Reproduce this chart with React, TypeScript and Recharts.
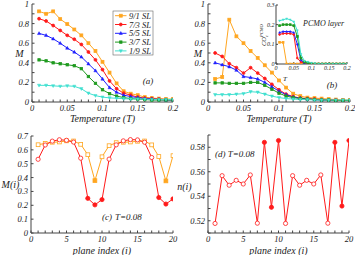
import React from 'react';
import { LineChart, Line, XAxis, YAxis } from 'recharts';

const SERIF = '"Liberation Serif", "DejaVu Serif", serif';
const AX = '#444';

// ---------- shared temperature grid ----------
const temperature = [0.01, 0.02, 0.03, 0.04, 0.05, 0.06, 0.07, 0.08, 0.09, 0.1, 0.11, 0.12, 0.13, 0.14, 0.15, 0.16, 0.17, 0.18, 0.19, 0.2];
const tempTicks = [0, 0.01, 0.02, 0.03, 0.04, 0.05, 0.06, 0.07, 0.08, 0.09, 0.1, 0.11, 0.12, 0.13, 0.14, 0.15, 0.16, 0.17, 0.18, 0.19, 0.2];
const tempLabels = ['0', '0.05', '0.1', '0.15', '0.2'];
const mTicks = [0, 0.1, 0.2, 0.3, 0.4, 0.5, 0.6, 0.7, 0.8, 0.9, 1];
const mLabels = ['0', '0.2', '0.4', '0.6', '0.8', '1'];

const seriesNames = ['9/1 SL', '7/3 SL', '5/5 SL', '3/7 SL', '1/9 SL'];
const seriesColors = ['#FFA620', '#FF1A1A', '#1F1FFF', '#1E9A1E', '#40E0D0'];
const seriesShapes = ['square', 'circle', 'triUp', 'square', 'triDown'];

// ---------- panel (a) ----------
const m91A = [0.925, 0.9, 0.925, 0.846, 0.795, 0.74, 0.68, 0.6, 0.52, 0.41, 0.3, 0.19, 0.11, 0.085, 0.07, 0.05, 0.04, 0.035, 0.03, 0.03];
const m73A = [0.85, 0.826, 0.78, 0.73, 0.68, 0.64, 0.587, 0.51, 0.43, 0.33, 0.215, 0.135, 0.09, 0.07, 0.05, 0.04, 0.035, 0.03, 0.025, 0.025];
const m55A = [0.7, 0.68, 0.645, 0.6, 0.55, 0.51, 0.46, 0.39, 0.32, 0.235, 0.147, 0.1, 0.07, 0.055, 0.045, 0.035, 0.03, 0.025, 0.02, 0.02];
const m37A = [0.43, 0.42, 0.4, 0.39, 0.38, 0.37, 0.34, 0.26, 0.19, 0.125, 0.085, 0.06, 0.045, 0.035, 0.03, 0.025, 0.02, 0.02, 0.02, 0.02];
const m19A = [0.17, 0.17, 0.165, 0.16, 0.165, 0.16, 0.135, 0.09, 0.065, 0.05, 0.042, 0.038, 0.034, 0.03, 0.03, 0.028, 0.025, 0.025, 0.025, 0.025];

// ---------- panel (b) ----------
const m91B = [0.235, 0.255, 0.84, 0.67, 0.6, 0.52, 0.45, 0.375, 0.3, 0.22, 0.147, 0.085, 0.06, 0.045, 0.04, 0.035, 0.03, 0.025, 0.02, 0.02];
const m73B = [0.5, 0.465, 0.39, 0.35, 0.295, 0.35, 0.295, 0.24, 0.18, 0.125, 0.08, 0.055, 0.04, 0.035, 0.03, 0.025, 0.02, 0.02, 0.015, 0.015];
const m55B = [0.4, 0.38, 0.36, 0.325, 0.26, 0.25, 0.235, 0.2, 0.155, 0.11, 0.075, 0.05, 0.04, 0.03, 0.025, 0.02, 0.02, 0.015, 0.015, 0.015];
const m37B = [0.195, 0.195, 0.19, 0.19, 0.19, 0.2, 0.2, 0.17, 0.13, 0.09, 0.06, 0.045, 0.035, 0.03, 0.025, 0.02, 0.02, 0.015, 0.015, 0.015];
const m19B = [0.075, 0.075, 0.075, 0.08, 0.085, 0.105, 0.1, 0.08, 0.06, 0.045, 0.035, 0.03, 0.025, 0.025, 0.02, 0.02, 0.02, 0.02, 0.02, 0.02];

// ---------- inset of (b): charge order in PCMO layer ----------
const co91 = [0.11, 0.11, 0, 0, 0, 0, 0, 0, 0, 0, 0, 0, 0, 0, 0, 0, 0, 0, 0, 0];
const co73 = [0.15, 0.155, 0.155, 0.155, 0.15, 0.03, 0.01, 0.005, 0, 0, 0, 0, 0, 0, 0, 0, 0, 0, 0, 0];
const co55 = [0.16, 0.165, 0.165, 0.165, 0.16, 0.1, 0.02, 0.005, 0, 0, 0, 0, 0, 0, 0, 0, 0, 0, 0, 0];
const co37 = [0.195, 0.2, 0.2, 0.2, 0.195, 0.14, 0.03, 0.01, 0.005, 0, 0, 0, 0, 0, 0, 0, 0, 0, 0, 0];
const co19 = [0.22, 0.225, 0.23, 0.225, 0.215, 0.17, 0.05, 0.015, 0.01, 0.005, 0.003, 0, 0, 0, 0, 0, 0, 0, 0, 0];
const insetXTicks = [0, 0.05, 0.1, 0.15, 0.2];
const insetYTicks = [0, 0.1, 0.2, 0.3];

// ---------- panels (c), (d) ----------
const plane = [1, 2, 3, 4, 5, 6, 7, 8, 9, 10, 11, 12, 13, 14, 15, 16, 17, 18, 19, 20];
const planeTicks = [0, 1, 2, 3, 4, 5, 6, 7, 8, 9, 10, 11, 12, 13, 14, 15, 16, 17, 18, 19, 20];
const planeLabels = ['0', '5', '10', '15', '20'];
const mRedC = [0.532, 0.635, 0.663, 0.673, 0.669, 0.656, 0.54, 0.25, 0.203, 0.241, 0.533, 0.636, 0.665, 0.674, 0.672, 0.655, 0.545, 0.256, 0.209, 0.246];
const mOrangeC = [0.637, 0.647, 0.655, 0.657, 0.665, 0.664, 0.64, 0.565, 0.378, 0.55, 0.63, 0.652, 0.655, 0.657, 0.662, 0.664, 0.636, 0.552, 0.376, 0.558];
const mCTicks = [0, 0.1, 0.2, 0.3, 0.4, 0.5, 0.6, 0.7];
const nRedD = [0.5178, 0.5568, 0.549, 0.553, 0.55, 0.5574, 0.518, 0.584, 0.531, 0.5855, 0.5178, 0.5568, 0.549, 0.553, 0.55, 0.5574, 0.518, 0.584, 0.532, 0.5855];
const nDTicks = [0.51, 0.52, 0.53, 0.54, 0.55, 0.56, 0.57, 0.58, 0.59];
const nDLabels = ['0.52', '0.54', '0.56', '0.58'];
const redFilledPlanes = [8, 9, 10, 18, 19, 20];
const orangeFilledPlanes = [9, 19];

const keys = ['s91', 's73', 's55', 's37', 's19'];
const dataA = temperature.map((t, i) => ({ t, s91: m91A[i], s73: m73A[i], s55: m55A[i], s37: m37A[i], s19: m19A[i] }));
const dataB = temperature.map((t, i) => ({ t, s91: m91B[i], s73: m73B[i], s55: m55B[i], s37: m37B[i], s19: m19B[i] }));
const dataInset = temperature.map((t, i) => ({ t, s91: co91[i], s73: co73[i], s55: co55[i], s37: co37[i], s19: co19[i] }));
const dataC = plane.map((p, i) => ({ plane: p, red: mRedC[i], orange: mOrangeC[i] }));
const dataD = plane.map((p, i) => ({ plane: p, n: nRedD[i] }));

function markerShape(shape: string, cx: number, cy: number, r: number, color: string, fill: string, key: string) {
  switch (shape) {
    case 'square':
      return <rect key={key} x={cx - r} y={cy - r} width={2 * r} height={2 * r} fill={fill} stroke={color} strokeWidth={0.8} />;
    case 'triUp':
      return <polygon key={key} points={`${cx},${cy - r * 1.2} ${cx - r * 1.1},${cy + r * 0.8} ${cx + r * 1.1},${cy + r * 0.8}`} fill={fill} stroke={color} strokeWidth={0.5} />;
    case 'triDown':
      return <polygon key={key} points={`${cx},${cy + r * 1.2} ${cx - r * 1.1},${cy - r * 0.8} ${cx + r * 1.1},${cy - r * 0.8}`} fill={fill} stroke={color} strokeWidth={0.5} />;
    default:
      return <circle key={key} cx={cx} cy={cy} r={r} fill={fill} stroke={color} strokeWidth={0.8} />;
  }
}

function makeDot(shape: string, color: string, r: number, filledPlanes?: number[]) {
  return (props: any) => {
    const { cx, cy, index, payload } = props;
    const key = `m${index}`;
    if (cx == null || cy == null) return <g key={key} />;
    const filled = filledPlanes ? filledPlanes.includes(payload.plane) : true;
    return markerShape(shape, cx, cy, r, color, filled ? color : '#ffffff', key);
  };
}

const labelFmt = (labels: string[]) => (v: number) => {
  const s = String(Math.round(v * 1000) / 1000);
  return labels.includes(s) ? s : '';
};

const tickStyle = (size: number) => ({ fontSize: size, fontFamily: SERIF, fontStyle: 'italic' as const, fill: '#222' });
const titleStyle = { fontFamily: SERIF, fontStyle: 'italic' as const, fill: '#222' };

function TempPanel({ data, which }: { data: any[]; which: 'a' | 'b' }) {
  const yW = which === 'a' ? 32 : 33;
  const mr = which === 'a' ? 7 : 5;
  return (
    <LineChart width={180} height={125} data={data} margin={{ top: 4, right: mr, bottom: 0, left: 0 }}>
      <XAxis dataKey="t" type="number" domain={[0, 0.2]} ticks={tempTicks} interval={0} allowDataOverflow
        tickFormatter={labelFmt(tempLabels)} tick={tickStyle(8.5)} tickSize={-2.5} tickMargin={5} height={23}
        axisLine={{ stroke: AX }} tickLine={{ stroke: AX }} />
      <YAxis type="number" domain={[0, 1]} ticks={mTicks} interval={0} allowDataOverflow
        tickFormatter={labelFmt(mLabels)} tick={tickStyle(8.5)} tickSize={-2.5} tickMargin={5.5} width={yW}
        axisLine={{ stroke: AX }} tickLine={{ stroke: AX }} />
      <XAxis xAxisId="top" orientation="top" dataKey="t" type="number" domain={[0, 0.2]} ticks={tempTicks} interval={0}
        allowDataOverflow tick={false} tickSize={-2.5} height={0} axisLine={{ stroke: AX }} tickLine={{ stroke: AX }} />
      <YAxis yAxisId="right" orientation="right" type="number" domain={[0, 1]} ticks={mTicks} interval={0}
        allowDataOverflow tick={false} tickSize={-2.5} width={0} axisLine={{ stroke: AX }} tickLine={{ stroke: AX }} />
      {keys.map((k, i) => (
        <Line key={k} dataKey={k} stroke={seriesColors[i]} strokeWidth={1} isAnimationActive={false} activeDot={false}
          dot={makeDot(seriesShapes[i], seriesColors[i], i === 3 ? 1.2 : 1.45)} />
      ))}
      <text x={which === 'a' ? 19.5 : 23} y={57} textAnchor="middle" fontSize={10} {...titleStyle}>M</text>
      <text x={which === 'a' ? 102.5 : 104} y={121.5} textAnchor="middle" fontSize={10} {...titleStyle}>Temperature (T)</text>
      {which === 'a' ? (
        <text x={148} y={84} textAnchor="middle" fontSize={9} {...titleStyle}>(a)</text>
      ) : (
        <text x={157} y={88} textAnchor="middle" fontSize={9} {...titleStyle}>(b)</text>
      )}
      {which === 'a' && (
        <g>
          <rect x={113} y={11} width={40} height={44} fill="#fff" stroke="#666" strokeWidth={0.6} />
          {seriesNames.map((name, i) => {
            const yy = 15.7 + i * 8.8;
            return (
              <g key={name}>
                <line x1={115} x2={126.5} y1={yy} y2={yy} stroke={seriesColors[i]} strokeWidth={1} />
                {markerShape(seriesShapes[i], 120.8, yy, i === 3 ? 1.2 : 1.45, seriesColors[i], seriesColors[i], 'lg' + i)}
                <text x={129} y={yy + 3} fontSize={8.5} {...titleStyle}>{name}</text>
              </g>
            );
          })}
        </g>
      )}
    </LineChart>
  );
}

function InsetPanel() {
  return (
    <LineChart width={100} height={82} data={dataInset} margin={{ top: 5, right: 8, bottom: 0, left: 0 }}>
      <XAxis dataKey="t" type="number" domain={[0, 0.2]} ticks={insetXTicks} interval={0} allowDataOverflow
        tick={tickStyle(6)} tickSize={-2} tickMargin={4} height={18} axisLine={{ stroke: AX }} tickLine={{ stroke: AX }} />
      <YAxis type="number" domain={[0, 0.3]} ticks={insetYTicks} interval={0} allowDataOverflow
        tick={tickStyle(6)} tickSize={-2} tickMargin={3.5} width={21} axisLine={{ stroke: AX }} tickLine={{ stroke: AX }} />
      <XAxis xAxisId="top" orientation="top" dataKey="t" type="number" domain={[0, 0.2]} ticks={insetXTicks} interval={0}
        allowDataOverflow tick={false} tickSize={-2} height={0} axisLine={{ stroke: AX }} tickLine={{ stroke: AX }} />
      <YAxis yAxisId="right" orientation="right" type="number" domain={[0, 0.3]} ticks={insetYTicks} interval={0}
        allowDataOverflow tick={false} tickSize={-2} width={0} axisLine={{ stroke: AX }} tickLine={{ stroke: AX }} />
      {keys.map((k, i) => (
        <Line key={k} dataKey={k} stroke={seriesColors[i]} strokeWidth={1} isAnimationActive={false} activeDot={false}
          dot={makeDot(seriesShapes[i], seriesColors[i], 0.9)} />
      ))}
      <text x={48} y={26} fontSize={8} {...titleStyle}>PCMO layer</text>
      <text x={30} y={80.5} textAnchor="middle" fontSize={7} {...titleStyle}>T</text>
      <g transform="translate(11,46) rotate(-90)">
        <text x={0} y={0} fontSize={6.5} {...titleStyle}>
          CO
          <tspan fontSize={4.5} dy={1.5}>c</tspan>
          <tspan fontSize={4.5} dx={-2} dy={-4.5}>PCMO</tspan>
        </text>
      </g>
    </LineChart>
  );
}

function PanelC() {
  return (
    <LineChart width={180} height={130} data={dataC} margin={{ top: 11, right: 7, bottom: 0, left: 0 }}>
      <XAxis dataKey="plane" type="number" domain={[0, 20]} ticks={planeTicks} interval={0} allowDataOverflow
        tickFormatter={labelFmt(planeLabels)} tick={tickStyle(8.5)} tickSize={-2.5} tickMargin={5} height={22}
        axisLine={{ stroke: AX }} tickLine={{ stroke: AX }} />
      <YAxis type="number" domain={[0, 0.7]} ticks={mCTicks} interval={0} allowDataOverflow
        tick={tickStyle(8.5)} tickSize={-2.5} tickMargin={5.5} width={31} axisLine={{ stroke: AX }} tickLine={{ stroke: AX }} />
      <XAxis xAxisId="top" orientation="top" dataKey="plane" type="number" domain={[0, 20]} ticks={planeTicks} interval={0}
        allowDataOverflow tick={false} tickSize={-2.5} height={0} axisLine={{ stroke: AX }} tickLine={{ stroke: AX }} />
      <YAxis yAxisId="right" orientation="right" type="number" domain={[0, 0.7]} ticks={mCTicks} interval={0}
        allowDataOverflow tick={false} tickSize={-2.5} width={0} axisLine={{ stroke: AX }} tickLine={{ stroke: AX }} />
      <Line dataKey="orange" stroke={seriesColors[0]} strokeWidth={1} isAnimationActive={false} activeDot={false}
        dot={makeDot('square', seriesColors[0], 1.9, orangeFilledPlanes)} />
      <Line dataKey="red" stroke={seriesColors[1]} strokeWidth={1} isAnimationActive={false} activeDot={false}
        dot={makeDot('circle', seriesColors[1], 2.1, redFilledPlanes)} />
      <text x={10.5} y={62.5} textAnchor="middle" fontSize={10} {...titleStyle}>M(i)</text>
      <text x={102} y={128.5} textAnchor="middle" fontSize={10} {...titleStyle}>plane index (i)</text>
      <text x={102} y={95} fontSize={9} {...titleStyle}>(c)</text>
      <text x={115} y={95} fontSize={9} {...titleStyle}>T=0.08</text>
    </LineChart>
  );
}

function PanelD() {
  return (
    <LineChart width={180} height={130} data={dataD} margin={{ top: 10, right: 6, bottom: 0, left: 0 }}>
      <XAxis dataKey="plane" type="number" domain={[0, 20]} ticks={planeTicks} interval={0} allowDataOverflow
        tickFormatter={labelFmt(planeLabels)} tick={tickStyle(8.5)} tickSize={-2.5} tickMargin={5} height={22}
        axisLine={{ stroke: AX }} tickLine={{ stroke: AX }} />
      <YAxis type="number" domain={[0.51, 0.59]} ticks={nDTicks} interval={0} allowDataOverflow
        tickFormatter={labelFmt(nDLabels)} tick={tickStyle(8.5)} tickSize={-2.5} tickMargin={5.5} width={33}
        axisLine={{ stroke: AX }} tickLine={{ stroke: AX }} />
      <XAxis xAxisId="top" orientation="top" dataKey="plane" type="number" domain={[0, 20]} ticks={planeTicks} interval={0}
        allowDataOverflow tick={false} tickSize={-2.5} height={0} axisLine={{ stroke: AX }} tickLine={{ stroke: AX }} />
      <YAxis yAxisId="right" orientation="right" type="number" domain={[0.51, 0.59]} ticks={nDTicks} interval={0}
        allowDataOverflow tick={false} tickSize={-2.5} width={0} axisLine={{ stroke: AX }} tickLine={{ stroke: AX }} />
      <Line dataKey="n" stroke={seriesColors[1]} strokeWidth={1} isAnimationActive={false} activeDot={false}
        dot={makeDot('circle', seriesColors[1], 2.1, redFilledPlanes)} />
      <text x={9.5} y={64.5} textAnchor="middle" fontSize={10} {...titleStyle}>n(i)</text>
      <text x={103.5} y={128.5} textAnchor="middle" fontSize={10} {...titleStyle}>plane index (i)</text>
      <text x={40} y={32} fontSize={9} {...titleStyle}>(d) T=0.08</text>
    </LineChart>
  );
}

export default function App() {
  return (
    <div style={{ position: 'absolute', left: 0, top: 0, width: 355, height: 255, background: '#fff', overflow: 'hidden' }}>
      <div style={{ position: 'absolute', left: 0, top: 0 }}><TempPanel data={dataA} which="a" /></div>
      <div style={{ position: 'absolute', left: 175, top: 0 }}><TempPanel data={dataB} which="b" /></div>
      <div style={{ position: 'absolute', left: 255, top: 0 }}><InsetPanel /></div>
      <div style={{ position: 'absolute', left: 0, top: 125 }}><PanelC /></div>
      <div style={{ position: 'absolute', left: 175, top: 125 }}><PanelD /></div>
    </div>
  );
}
